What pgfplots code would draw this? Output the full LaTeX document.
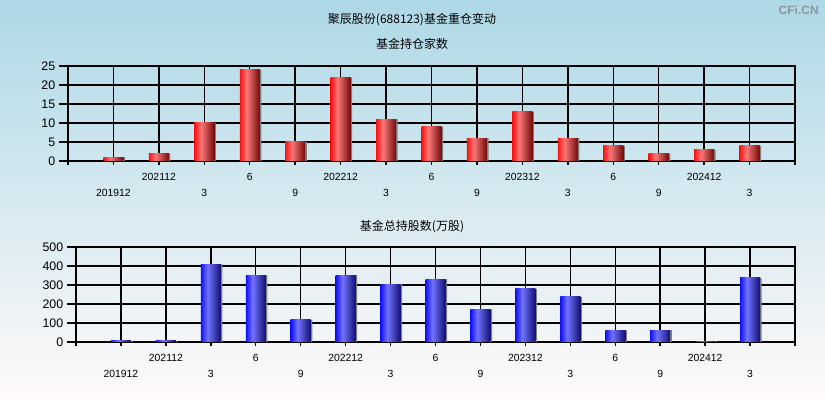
\documentclass[border=0pt]{standalone}
\usepackage{fontspec}
\setmainfont{Liberation Sans}
\newfontfamily\cjk{Noto Sans CJK SC}
\usepackage{pgfplots}
\usepackage{pgfplotstable}
\pgfplotsset{compat=1.18}
\definecolor{bgtop}{RGB}{173,216,230}
\definecolor{bgbot}{RGB}{255,250,250}
\definecolor{redL}{RGB}{255,15,15}
\definecolor{redM}{RGB}{250,120,120}
\definecolor{redR}{RGB}{115,10,10}
\definecolor{bluL}{RGB}{15,15,255}
\definecolor{bluM}{RGB}{115,115,255}
\definecolor{bluR}{RGB}{15,15,115}
\definecolor{wm}{RGB}{140,150,158}
\pgfdeclarehorizontalshading{redbar}{100bp}{color(0bp)=(redL); color(25bp)=(redL); color(42bp)=(redM); color(75bp)=(redR); color(100bp)=(redR)}
\pgfdeclarehorizontalshading{blubar}{100bp}{color(0bp)=(bluL); color(25bp)=(bluL); color(42bp)=(bluM); color(75bp)=(bluR); color(100bp)=(bluR)}
\pgfplotstableread{
x y
1 1
2 2
3 10
4 24
5 5
6 22
7 11
8 9
9 6
10 13
11 6
12 4
13 2
14 3
15 4
}\datatop
\pgfplotstableread{
x y
1 6
2 6
3 410
4 352
5 116
6 352
7 305
8 331
9 173
10 279
11 237
12 63
13 63
14 5
15 337
}\databot
\pgfplotsset{
  mybase/.style={
    scale only axis,
    xmin=0, xmax=16,
    axis line style={black, line width=1.05pt},
    grid=major,
    major grid style={black, line width=1.05pt},
    tick style={black, line width=1.05pt},
    tick align=outside,
    major tick length=3pt,
    xtick pos=bottom, ytick pos=left,
    ytick style={/pgfplots/major tick length=6.5pt},
    xtick={0,2,...,16},
    xticklabels={,202112,6,202212,6,202312,6,202412,},
    extra x ticks={1,3,...,15},
    extra x tick labels={201912,3,9,3,9,3,9,3},
    extra x tick style={grid=major, major grid style={black, line width=1.05pt}, tick label style={yshift=-12pt}},
    xticklabel style={font=\fontsize{7.8}{9}\selectfont, yshift=-3pt},
    yticklabel style={font=\fontsize{9.3}{10}\selectfont, xshift=-3pt},
    /pgf/number format/assume math mode=true,
  }
}
\begin{document}
\begin{tikzpicture}
\shade[top color=bgtop, bottom color=bgbot] (0,0) rectangle (618.75pt,300pt);
\node[font=\cjk\fontsize{9}{10}\selectfont] at (309pt,285.5pt) {聚辰股份(688123)基金重仓变动};
\node[font=\cjk\fontsize{9}{10}\selectfont] at (309pt,267pt) {基金持仓家数};
\node[font=\cjk\fontsize{9}{10}\selectfont] at (309pt,130pt) {基金总持股数(万股)};
\node[text=wm, font=\bfseries\fontsize{9}{10}\selectfont] at (599pt,292.5pt) {CFi.CN};

\begin{axis}[mybase, at={(51pt,179.25pt)}, anchor=south west,
  width=545.25pt, height=71.25pt,
  ymin=0, ymax=25, ytick={0,5,...,25}]
\addplot[ybar, bar width=15pt, bar shift=1.2pt, fill=gray, draw=none] table[x=x,y=y] {\datatop};
\pgfplotsinvokeforeach{1,...,15}{
\addplot[ybar, bar width=15pt, bar shift=0pt, draw=none, shading=redbar,
  restrict x to domain=#1:#1] table[x=x,y=y] {\datatop};
}
\end{axis}

\begin{axis}[mybase, at={(57pt,43.5pt)}, anchor=south west,
  width=539.25pt, height=71.25pt,
  ymin=0, ymax=500, ytick={0,100,...,500}]
\addplot[ybar, bar width=15pt, bar shift=1.2pt, fill=gray, draw=none] table[x=x,y=y] {\databot};
\pgfplotsinvokeforeach{1,...,15}{
\addplot[ybar, bar width=15pt, bar shift=0pt, draw=none, shading=blubar,
  restrict x to domain=#1:#1] table[x=x,y=y] {\databot};
}
\end{axis}
\end{tikzpicture}
\end{document}
